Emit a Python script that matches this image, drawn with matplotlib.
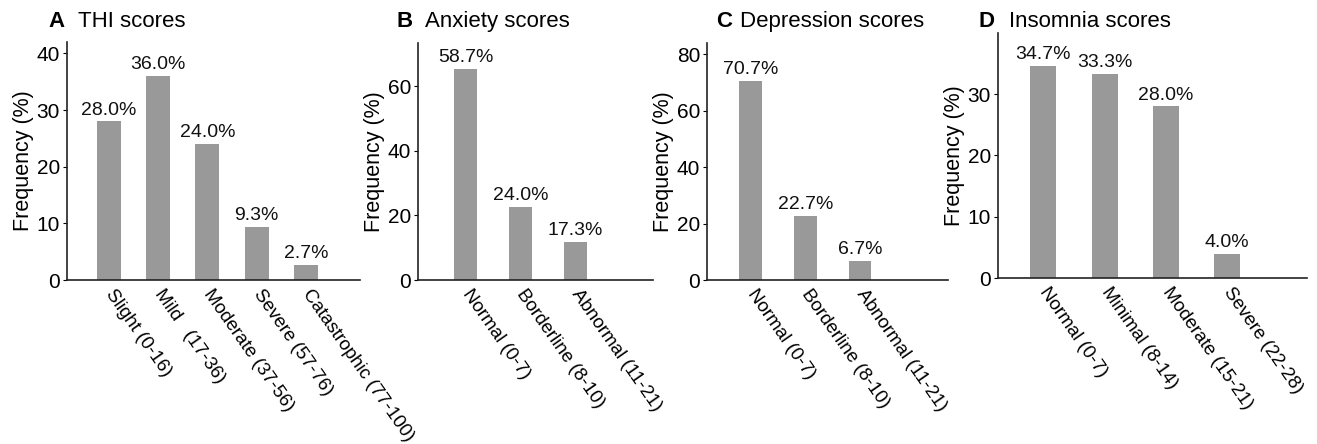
import numpy as np
import matplotlib
matplotlib.use("Agg")
import matplotlib.pyplot as plt

plt.rcParams['font.family'] = ['Liberation Sans', 'DejaVu Sans']

# panel A - THI
thi_labels = ['Slight (0-16)', 'Mild   (17-36)', 'Moderate (37-56)',
              'Severe (57-76)', 'Catastrophic (77-100)']
thi_values = [28.0, 36.0, 24.0, 9.4, 2.7]
thi_text = ['28.0%', '36.0%', '24.0%', '9.3%', '2.7%']

# panel B - anxiety (bars drawn as in the figure, labels as printed)
anx_labels = ['Normal (0-7)', 'Borderline (8-10)', 'Abnormal (11-21)']
anx_values = [65.2, 22.5, 11.7]
anx_text = ['58.7%', '24.0%', '17.3%']

# panel C - depression
dep_labels = ['Normal (0-7)', 'Borderline (8-10)', 'Abnormal (11-21)']
dep_values = [70.7, 22.7, 6.7]
dep_text = ['70.7%', '22.7%', '6.7%']

# panel D - insomnia
ins_labels = ['Normal (0-7)', 'Minimal (8-14)', 'Moderate (15-21)', 'Severe (22-28)']
ins_values = [34.6, 33.3, 28.0, 4.0]
ins_text = ['34.7%', '33.3%', '28.0%', '4.0%']


def draw_panel(fig, rect, labels, values, texts, width, xlim, ylim, yticks,
               letter, title, letter_xy, title_x):
    ax = fig.add_axes(rect)
    x = np.arange(len(labels))
    rects = ax.bar(x, values, width, color='#999999', zorder=2)
    for r, t in zip(rects, texts):
        ax.annotate(t, xy=(r.get_x() + r.get_width() / 2, r.get_height()),
                    xytext=(0, 2), textcoords='offset points',
                    ha='center', va='bottom', fontsize=14, color='#111111')
    ax.set_xlim(*xlim)
    ax.set_ylim(*ylim)
    ax.set_yticks(yticks)
    ax.set_xticks(x)
    ax.set_xticklabels(labels, rotation=-55, ha='left', va='center',
                       rotation_mode='anchor', fontsize=13.5)
    ax.tick_params(axis='x', length=0, pad=8)
    ax.tick_params(axis='y', length=3, width=0.8, labelsize=15, pad=2)
    ax.set_ylabel('Frequency (%)', fontsize=15.5, labelpad=2)
    for s in ['top', 'right']:
        ax.spines[s].set_visible(False)
    for s in ['left', 'bottom']:
        ax.spines[s].set_linewidth(1.2)
        ax.spines[s].set_color('#222222')
    fig.text(letter_xy[0], letter_xy[1], letter, fontsize=16,
             fontweight='bold', va='baseline')
    fig.text(title_x, letter_xy[1], title, fontsize=16, va='baseline')
    return ax


fig = plt.figure(figsize=(13.17, 4.44), dpi=100)
W, H = 1317, 444


def rect(l, r, b, t):
    return [l / W, 1 - b / H, (r - l) / W, (b - t) / H]


draw_panel(fig, rect(67, 360, 280, 42), thi_labels, thi_values, thi_text,
           0.49, (-0.85, 5.1), (0, 42), [0, 10, 20, 30, 40],
           'A', 'THI scores', (48 / W, 1 - 27 / H), 78 / W)
draw_panel(fig, rect(418, 653, 280, 43), anx_labels, anx_values, anx_text,
           0.42, (-0.87, 3.42), (0, 73.3), [0, 20, 40, 60],
           'B', 'Anxiety scores', (397 / W, 1 - 27 / H), 425 / W)
draw_panel(fig, rect(707, 948, 280, 43), dep_labels, dep_values, dep_text,
           0.415, (-0.80, 3.61), (0, 84), [0, 20, 40, 60, 80],
           'C', 'Depression scores', (716 / W, 1 - 27 / H), 740 / W)
draw_panel(fig, rect(998, 1307, 278, 33), ins_labels, ins_values, ins_text,
           0.42, (-0.74, 4.3), (0, 40), [0, 10, 20, 30],
           'D', 'Insomnia scores', (978 / W, 1 - 27 / H), 1009 / W)

fig.savefig('out.png', dpi=100)
